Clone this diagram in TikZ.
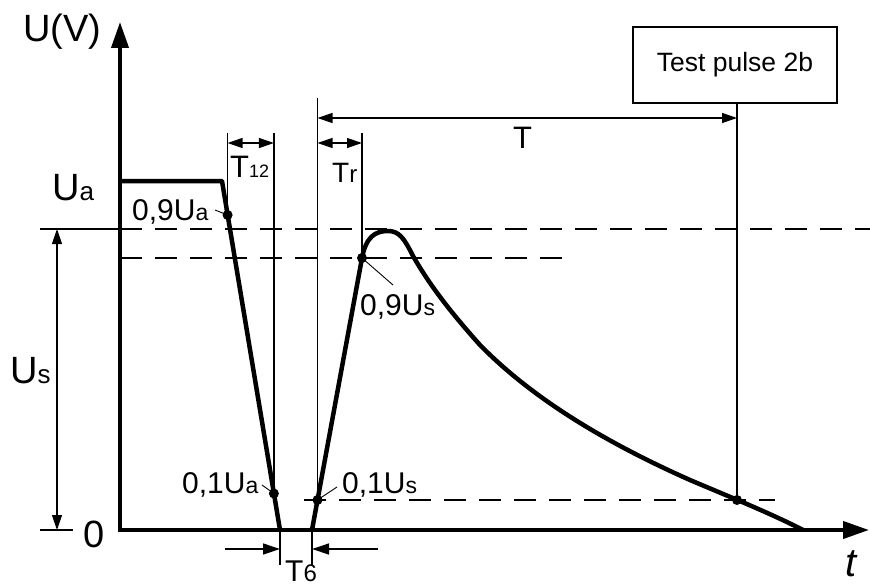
\documentclass[tikz,border=0pt]{standalone}
\usepackage{fontspec}
\setmainfont{Liberation Sans}
\usetikzlibrary{arrows.meta,positioning,calc}
\newcommand{\biglbl}[2]{{\fontsize{38}{38}\selectfont #1}{\fontsize{26}{26}\selectfont #2}}
\newcommand{\ptlbl}[2]{{\fontsize{30}{30}\selectfont #1}{\fontsize{23}{23}\selectfont #2}}
\tikzset{
  axisline/.style={line width=4pt,line join=miter,{Triangle[length=26pt,width=17pt]}-{Triangle[length=26pt,width=17pt]}},
  pulseline/.style={line width=4.5pt,line join=round},
  thinline/.style={line width=1.3pt},
  guideline/.style={line width=1.3pt,dash pattern=on 22pt off 13pt},
  dimarrow/.style={line width=1.3pt,{Triangle[length=15pt,width=10pt]}-{Triangle[length=15pt,width=10pt]}},
  onearrow/.style={line width=1.3pt,-{Triangle[length=17pt,width=11pt]}},
  leaderline/.style={line width=0.9pt},
  lbl/.style={inner sep=0pt,anchor=base west},
  pulsebox/.style={draw,line width=1.3pt,minimum width=204pt,minimum height=76pt,font=\fontsize{26.5}{26.5}\selectfont}
}
\begin{document}
\begin{tikzpicture}[x=1pt,y=-1pt]
\useasboundingbox (0,0) rectangle (870,586);
% axes and key points
\coordinate (O) at (120,530);
\coordinate (ytip) at (120,22);
\coordinate (xtip) at (869,530);
\coordinate (ua0) at (120,181);
\coordinate (ua1) at (222,181);
\coordinate (fall0) at (280,530);
\coordinate (rise0) at (312,530);
\coordinate (d9a) at (227.6,215);
\coordinate (d1a) at (273.9,493.5);
\coordinate (d1s) at (317.5,500);
\coordinate (d9s) at (362,258);
\coordinate (dT) at (737,500);
\coordinate (tail) at (803,530);
% rows used by the dimension lines
\coordinate (rowT) at (0,118);
\coordinate (rowTop) at (0,98);
\coordinate (rowDim) at (0,133);
\coordinate (rowArr) at (0,143);
\coordinate (rowT6) at (0,549);
\coordinate (rowT6end) at (0,565);

% guide lines
\draw[guideline] (120,229) -- (870,229);
\draw[guideline] (120,258) -- (570,258);
\draw[guideline] (304,500) -- (775,500);

% U_s dimension
\coordinate (usl) at (40,229);
\coordinate (usr) at (120,229);
\coordinate (zl) at (40,530);
\coordinate (zr) at (73,530);
\draw[thinline] (usl) -- (usr);
\draw[thinline] (zl) -- (zr);
\draw[dimarrow] (57,229) -- (57,530);

% T12, Tr, T
\draw[thinline] (d9a |- rowDim) -- (d9a);
\draw[thinline] (d1a |- rowDim) -- (d1a);
\draw[dimarrow] (d9a |- rowArr) -- (d1a |- rowArr);
\draw[thinline] (d1s |- rowTop) -- (d1s);
\draw[thinline] (d9s |- rowDim) -- (d9s);
\draw[dimarrow] (d1s |- rowArr) -- (d9s |- rowArr);
\node[pulsebox] (tp) at (735,65) {Test pulse 2b};
\draw[thinline] (tp.south -| dT) -- (dT);
\draw[dimarrow] (d1s |- rowT) -- (dT |- rowT);

% T6
\draw[thinline] (fall0) -- (fall0 |- rowT6end);
\draw[thinline] (rise0) -- (rise0 |- rowT6end);
\draw[onearrow] (225,549) -- (fall0 |- rowT6);
\draw[onearrow] (378,549) -- (rise0 |- rowT6);

% pulse
\draw[pulseline] (ua0) -- (ua1) -- (fall0);
\draw[pulseline] (rise0) -- (d9s)
  .. controls (366,237) and (375,231) .. (388,231)
  .. controls (399,231) and (404,238) .. (413,256)
  .. controls (428,282) and (446,307) .. (480,345)
  .. controls (530,396) and (600,440) .. (690,480)
  .. controls (730,497) and (770,513) .. (tail);

% axes
\draw[axisline] (ytip) -- (O) -- (xtip);

% points and leaders
\foreach \p in {d9a,d1a,d1s,d9s,dT}
  \fill (\p) circle (5);
\coordinate (ld9a) at (215,210);
\coordinate (ld1a) at (262,485);
\coordinate (ld1s) at (337,487);
\coordinate (ld9s) at (393,285);
\draw[leaderline] (ld9a) -- (d9a);
\draw[leaderline] (ld1a) -- (d1a);
\draw[leaderline] (ld1s) -- (d1s);
\draw[leaderline] (ld9s) -- (d9s);

% labels
\node[lbl] (uv) at (23,42) {\fontsize{38}{38}\selectfont U(V)};
\node[lbl] (ua) at (52,200) {\biglbl{U}{a}};
\node[lbl] (us) at (10,383) {\biglbl{U}{s}};
\node[lbl] (zero) at (83,547) {\fontsize{38}{38}\selectfont 0};
\node[lbl] (l9a) at (132,220) {\ptlbl{0,9U}{a}};
\node[lbl] (l1a) at (182,493) {\ptlbl{0,1U}{a}};
\node[lbl] (l1s) at (342,493) {\ptlbl{0,1U}{s}};
\node[lbl] (l9s) at (360,315) {\ptlbl{0,9U}{s}};
\node[lbl] (t12) at (230,177) {{\fontsize{31}{31}\selectfont T}{\fontsize{18}{18}\selectfont 12}};
\node[lbl] (tr) at (332,182) {{\fontsize{28}{28}\selectfont T}{\fontsize{24}{24}\selectfont r}};
\node[lbl] (tt) at (513,148) {\fontsize{31}{31}\selectfont T};
\node[lbl] (t6) at (285,581) {{\fontsize{30}{30}\selectfont T}{\fontsize{24}{24}\selectfont 6}};
\node[lbl] (tax) at (845,576) {\fontsize{40}{40}\selectfont\itshape t};
\end{tikzpicture}
\end{document}
